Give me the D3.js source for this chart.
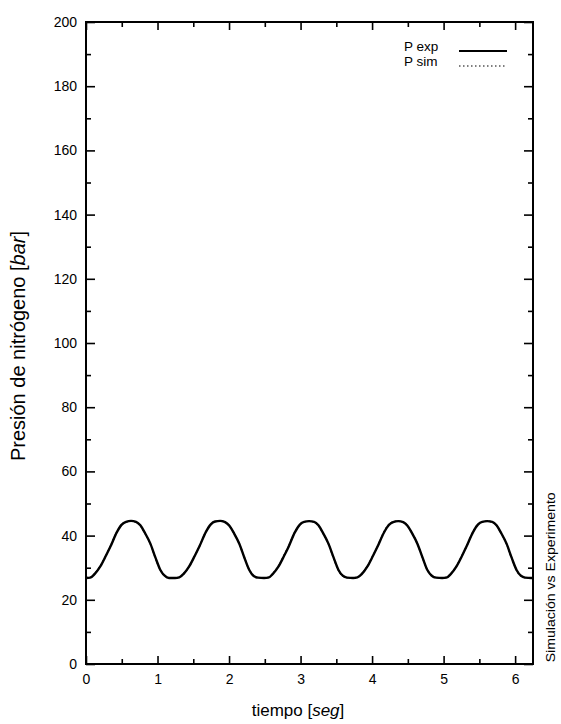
<!DOCTYPE html>
<html>
<head>
<meta charset="utf-8">
<script src="https://cdn.jsdelivr.net/npm/d3@7"></script>
<style>
    body { margin: 0; background: #fff; }
    svg { font-family: "Liberation Sans", Arial, sans-serif; }
    .axis path { display: none; }
    .axis line { stroke: #000; stroke-width: 1.6; }
    .axis text { font-size: 14px; fill: #000; }
</style>
</head>
<body>
<div id="chart"></div>
<script>
// Tick values of the axes
const yTicks = [0, 20, 40, 60, 80, 100, 120, 140, 160, 180, 200];
const yMinorTicks = [10, 30, 50, 70, 90, 110, 130, 150, 170, 190];
const xTicks = [0, 1, 2, 3, 4, 5, 6];
const xMinorTicks = [0.5, 1.5, 2.5, 3.5, 4.5, 5.5];

// Time samples [s]
const time = [
    0, 0.06, 0.12, 0.20, 0.28, 0.34, 0.43, 0.50, 0.56, 0.63, 0.70, 0.76, 0.82, 0.90, 0.97, 1.04, 1.10, 1.16,
    1.245, 1.305, 1.365, 1.445, 1.525, 1.585, 1.675, 1.745, 1.805, 1.875, 1.945, 2.005, 2.065, 2.145, 2.215, 2.285, 2.345, 2.405,
    2.49, 2.55, 2.61, 2.69, 2.77, 2.83, 2.92, 2.99, 3.05, 3.12, 3.19, 3.25, 3.31, 3.39, 3.46, 3.53, 3.59, 3.65,
    3.735, 3.795, 3.855, 3.935, 4.015, 4.075, 4.165, 4.235, 4.295, 4.365, 4.435, 4.495, 4.555, 4.635, 4.705, 4.775, 4.835, 4.895,
    4.98, 5.04, 5.10, 5.18, 5.26, 5.32, 5.41, 5.48, 5.54, 5.61, 5.68, 5.74, 5.80, 5.88, 5.95, 6.02, 6.08, 6.14,
    6.225, 6.25
];

// Measured nitrogen pressure [bar]
const pExp = [
    26.8, 26.9, 28.0, 30.4, 33.8, 36.5, 41.0, 43.4, 44.3, 44.6, 44.3, 43.2, 41.0, 37.5, 33.2, 29.3, 27.5, 26.8,
    26.8, 27.0, 28.1, 30.5, 33.9, 36.6, 41.1, 43.5, 44.4, 44.6, 44.2, 43.1, 40.9, 37.4, 33.1, 29.2, 27.4, 26.9,
    26.8, 26.9, 28.0, 30.3, 33.7, 36.4, 41.0, 43.4, 44.3, 44.5, 44.3, 43.2, 41.0, 37.5, 33.3, 29.3, 27.5, 26.9,
    26.8, 27.0, 28.0, 30.4, 33.8, 36.5, 40.9, 43.3, 44.2, 44.5, 44.2, 43.1, 40.9, 37.4, 33.2, 29.2, 27.5, 26.9,
    26.8, 26.9, 28.0, 30.4, 33.8, 36.6, 41.0, 43.4, 44.3, 44.5, 44.3, 43.2, 41.0, 37.5, 33.2, 29.3, 27.5, 26.9,
    26.8, 26.8
];

// Simulated nitrogen pressure [bar]
const pSim = [
    26.9, 27.0, 28.1, 30.5, 33.9, 36.6, 41.1, 43.5, 44.3, 44.5, 44.2, 43.1, 40.9, 37.4, 33.1, 29.2, 27.4, 26.9,
    26.9, 27.0, 28.1, 30.5, 33.9, 36.6, 41.1, 43.5, 44.3, 44.5, 44.2, 43.1, 40.9, 37.4, 33.1, 29.2, 27.4, 26.9,
    26.9, 27.0, 28.1, 30.5, 33.9, 36.6, 41.1, 43.5, 44.3, 44.5, 44.2, 43.1, 40.9, 37.4, 33.1, 29.2, 27.4, 26.9,
    26.9, 27.0, 28.1, 30.5, 33.9, 36.6, 41.1, 43.5, 44.3, 44.5, 44.2, 43.1, 40.9, 37.4, 33.1, 29.2, 27.4, 26.9,
    26.9, 27.0, 28.1, 30.5, 33.9, 36.6, 41.1, 43.5, 44.3, 44.5, 44.2, 43.1, 40.9, 37.4, 33.1, 29.2, 27.4, 26.9,
    26.9, 26.9
];

const series = [
    {label: "P exp", values: pExp, width: 2.4, dash: null},
    {label: "P sim", values: pSim, width: 1.4, dash: "2,2"}
];

const totalWidth = 561;
const totalHeight = 724;
const margin = {top: 22, left: 86, bottom: 60, right: 28};
const width = totalWidth - margin.left - margin.right;
const height = totalHeight - margin.top - margin.bottom;

const x = d3.scaleLinear()
    .domain([0, 6.25])
    .range([0, width]);

const y = d3.scaleLinear()
    .domain([0, 200])
    .range([height, 0]);

const svg = d3.select("#chart").append("svg")
    .attr("width", totalWidth)
    .attr("height", totalHeight);

const g = svg.append("g")
    .attr("transform", `translate(${margin.left},${margin.top})`);

// Inward ticks on all four sides.
g.append("g").attr("class", "axis")
    .call(d3.axisLeft(y).tickValues(yTicks).tickSizeInner(-9).tickSizeOuter(0).tickPadding(9));
g.append("g").attr("class", "axis")
    .call(d3.axisLeft(y).tickValues(yMinorTicks).tickSizeInner(-5).tickSizeOuter(0).tickFormat(""));
g.append("g").attr("class", "axis")
    .attr("transform", `translate(${width},0)`)
    .call(d3.axisRight(y).tickValues(yTicks).tickSizeInner(-9).tickSizeOuter(0).tickFormat(""));
g.append("g").attr("class", "axis")
    .attr("transform", `translate(${width},0)`)
    .call(d3.axisRight(y).tickValues(yMinorTicks).tickSizeInner(-5).tickSizeOuter(0).tickFormat(""));

g.append("g").attr("class", "axis")
    .attr("transform", `translate(0,${height})`)
    .call(d3.axisBottom(x).tickValues(xTicks).tickFormat(d3.format("d"))
        .tickSizeInner(-8).tickSizeOuter(0).tickPadding(10));
g.append("g").attr("class", "axis")
    .attr("transform", `translate(0,${height})`)
    .call(d3.axisBottom(x).tickValues(xMinorTicks).tickSizeInner(-5).tickSizeOuter(0).tickFormat(""));
g.append("g").attr("class", "axis")
    .call(d3.axisTop(x).tickValues(xTicks).tickSizeInner(-8).tickSizeOuter(0).tickFormat(""));
g.append("g").attr("class", "axis")
    .call(d3.axisTop(x).tickValues(xMinorTicks).tickSizeInner(-5).tickSizeOuter(0).tickFormat(""));

// Frame
g.append("rect")
    .attr("width", width)
    .attr("height", height)
    .attr("fill", "none")
    .attr("stroke", "#000")
    .attr("stroke-width", 2);

const line = d3.line()
    .x((d, i) => x(time[i]))
    .y(d => y(d))
    .curve(d3.curveMonotoneX);

series.forEach(s => {
    g.append("path")
        .attr("d", line(s.values))
        .attr("fill", "none")
        .attr("stroke", "#000")
        .attr("stroke-width", s.width)
        .attr("stroke-dasharray", s.dash);
});

// Legend
const legend = g.append("g")
    .attr("transform", `translate(${width - 129}, 29)`);

series.forEach((s, i) => {
    const row = legend.append("g").attr("transform", `translate(0, ${i * 15})`);
    row.append("text")
        .attr("x", 0)
        .attr("y", 0)
        .style("font-size", "13.5px")
        .text(s.label);
    row.append("line")
        .attr("x1", 55).attr("x2", 103)
        .attr("y1", 0).attr("y2", 0)
        .attr("stroke", "#000")
        .attr("stroke-width", i === 0 ? 1.8 : 1.2)
        .attr("stroke-dasharray", i === 0 ? null : "1.5,2.5");
});

// Axis labels
const xLabel = svg.append("text")
    .attr("x", 298)
    .attr("y", 716)
    .attr("text-anchor", "middle")
    .style("font-size", "17px");
xLabel.append("tspan").text("tiempo [");
xLabel.append("tspan").style("font-style", "italic").text("seg");
xLabel.append("tspan").text("]");

const yLabel = svg.append("text")
    .attr("transform", `translate(25, 346) rotate(-90)`)
    .attr("text-anchor", "middle")
    .style("font-size", "20px");
yLabel.append("tspan").text("Presión de nitrógeno [");
yLabel.append("tspan").style("font-style", "italic").text("bar");
yLabel.append("tspan").text("]");

svg.append("text")
    .attr("transform", `translate(555, ${margin.top + y(27)}) rotate(-90)`)
    .attr("text-anchor", "middle")
    .attr("textLength", 170)
    .attr("lengthAdjust", "spacingAndGlyphs")
    .style("font-size", "12.5px")
    .text("Simulación vs Experimento");
</script>
</body>
</html>
